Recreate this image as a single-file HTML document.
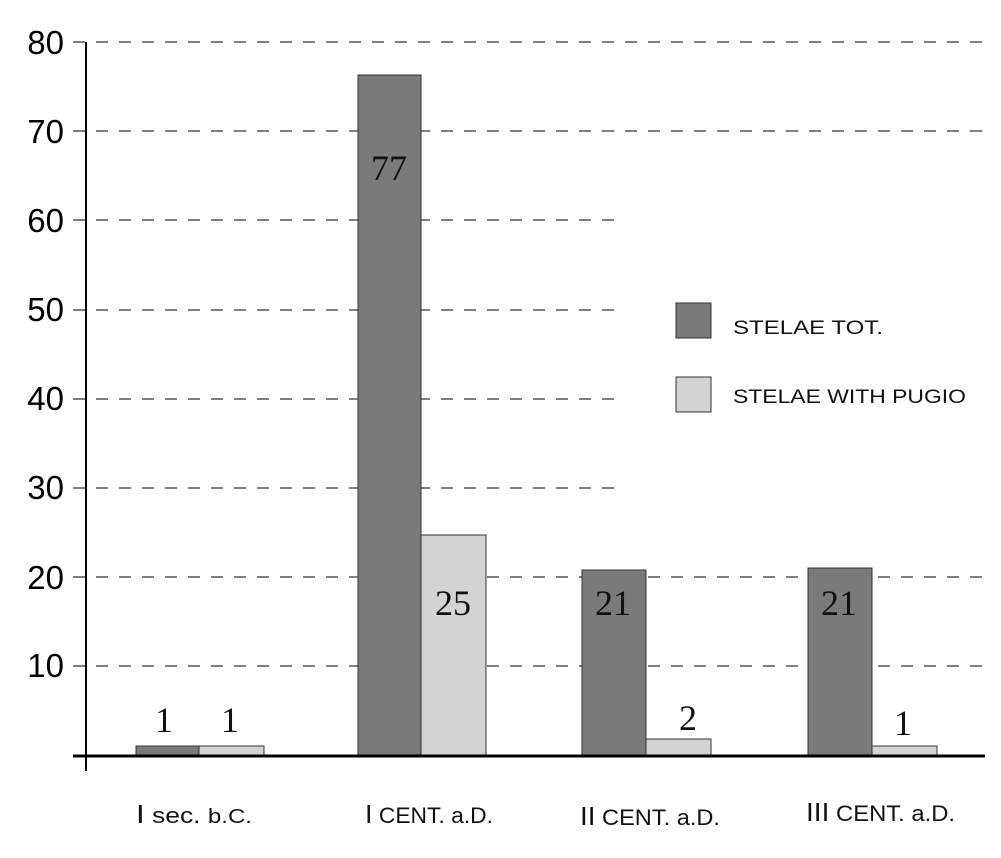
<!DOCTYPE html>
<html><head><meta charset="utf-8"><style>body{margin:0;background:#fff}</style></head><body>
<svg width="1001" height="853" xmlns="http://www.w3.org/2000/svg">
<rect width="1001" height="853" fill="#fff"/>
<g stroke="#555" stroke-width="1.5" stroke-dasharray="12,11" fill="none">
<line x1="73" y1="42" x2="985" y2="42"/>
<line x1="73" y1="131" x2="985" y2="131"/>
<line x1="73" y1="220" x2="622" y2="220"/>
<line x1="73" y1="310" x2="622" y2="310"/>
<line x1="73" y1="399" x2="622" y2="399"/>
<line x1="73" y1="488" x2="622" y2="488"/>
<line x1="73" y1="577" x2="985" y2="577"/>
<line x1="73" y1="666" x2="985" y2="666"/>
</g>
<g stroke="#333" stroke-width="1">
<rect x="136" y="746" width="63" height="10" fill="#7a7a7a"/>
<rect x="199" y="746" width="65" height="10" fill="#d3d3d3"/>
<rect x="358" y="75" width="63" height="681" fill="#7a7a7a"/>
<rect x="421" y="535" width="65" height="221" fill="#d3d3d3"/>
<rect x="582" y="570" width="64" height="186" fill="#7a7a7a"/>
<rect x="646" y="739" width="65" height="17" fill="#d3d3d3"/>
<rect x="808" y="568" width="64" height="188" fill="#7a7a7a"/>
<rect x="872" y="746" width="65" height="10" fill="#d3d3d3"/>
<rect x="676" y="303" width="35" height="35" fill="#7a7a7a"/>
<rect x="676" y="377" width="35" height="35" fill="#d3d3d3"/>
</g>
<line x1="86" y1="42" x2="86" y2="771" stroke="#000" stroke-width="2"/>
<line x1="73" y1="756" x2="985" y2="756" stroke="#000" stroke-width="3"/>
<g font-family="Liberation Sans, sans-serif" font-size="33" text-anchor="end" fill="#000">
<text x="64" y="54">80</text><text x="64" y="143">70</text><text x="64" y="232">60</text><text x="64" y="321">50</text>
<text x="64" y="410">40</text><text x="64" y="499">30</text><text x="64" y="589">20</text><text x="64" y="677">10</text>
</g>
<g font-family="Liberation Serif, serif" font-size="36" text-anchor="middle" fill="#111">
<text x="389" y="180">77</text><text x="453" y="615">25</text><text x="613" y="615">21</text><text x="839" y="615">21</text>
<text x="164" y="732">1</text><text x="230" y="732">1</text><text x="688" y="730">2</text><text x="903" y="735">1</text>
</g>
<g font-family="Liberation Sans, sans-serif" font-size="19" fill="#111">
<text x="733" y="334" textLength="150" lengthAdjust="spacingAndGlyphs">STELAE  TOT.</text>
<text x="733" y="403" textLength="233" lengthAdjust="spacingAndGlyphs">STELAE WITH PUGIO</text>
</g>
<g font-family="Liberation Sans, sans-serif" font-size="22" fill="#111">
<text x="136" y="823" textLength="116" lengthAdjust="spacingAndGlyphs"><tspan font-size="26">I</tspan> sec. <tspan font-size="20">b.C.</tspan></text>
<text x="365" y="823" textLength="128" lengthAdjust="spacingAndGlyphs"><tspan font-size="26">I</tspan> CENT. a.D.</text>
<text x="580" y="825" textLength="140" lengthAdjust="spacingAndGlyphs"><tspan font-size="26">II</tspan> CENT. a.D.</text>
<text x="806" y="821" textLength="149" lengthAdjust="spacingAndGlyphs"><tspan font-size="26">III</tspan> CENT. a.D.</text>
</g>
</svg>
</body></html>
